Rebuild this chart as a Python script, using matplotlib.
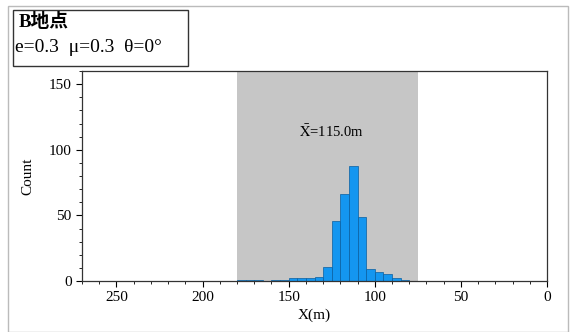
import matplotlib
matplotlib.use("Agg")
import matplotlib.pyplot as plt
from matplotlib.patches import Rectangle
from matplotlib.ticker import MultipleLocator

plt.rcParams['font.family'] = ['Liberation Serif', 'Noto Sans CJK SC']
plt.rcParams['mathtext.fontset'] = 'stix'

# data
bin_left = [180, 175, 170, 165, 160, 155, 150, 145, 140, 135, 130, 125, 120,
            115, 110, 105, 100, 95, 90, 85, 80]
counts = [1, 1, 1, 0, 1, 1, 2, 2, 2, 3, 11, 46, 66, 88, 49, 9, 7, 5, 2, 1, 0]
bin_width = 5
range_lo, range_hi = 75, 180
mean_label = r"$\bar{\mathrm{X}}$=115.0m"
title_line1 = "B地点"
title_line2 = "e=0.3  μ=0.3  θ=0°"

fig = plt.figure(figsize=(5.76, 3.32), dpi=100)
ax = fig.add_axes([82/576, 51/332, 465/576, 210/332])

ax.axvspan(range_lo, range_hi, color='#c6c6c6', zorder=0, lw=0)
ax.bar([b - bin_width / 2 for b in bin_left], counts, width=bin_width,
       color='#1496f0', edgecolor='#0a5fa0', linewidth=0.5, zorder=2)

ax.set_xlim(270, 0)
ax.set_ylim(0, 160)
ax.xaxis.set_major_locator(MultipleLocator(50))
ax.xaxis.set_minor_locator(MultipleLocator(10))
ax.yaxis.set_major_locator(MultipleLocator(50))
ax.yaxis.set_minor_locator(MultipleLocator(10))
ax.tick_params(which='major', direction='out', length=4, width=0.8, labelsize=11)
ax.tick_params(which='minor', direction='out', length=2, width=0.6)
for s in ax.spines.values():
    s.set_linewidth(0.9)
    s.set_color('#333333')

ax.set_xlabel("X(m)", fontsize=11, labelpad=3)
ax.set_ylabel("Count", fontsize=11, labelpad=10)

ax.text(125, 114, mean_label, ha='center', va='center', fontsize=10.5)

# title box
fig.patches.append(Rectangle((13/576, 1 - 66/332), 175/576, 56/332,
                             transform=fig.transFigure, fill=False,
                             edgecolor='#333333', linewidth=1.0))
fig.text(19/576, 1 - 22/332, title_line1, fontsize=13.5, fontweight='bold',
         va='center', ha='left')
fig.text(15/576, 1 - 48/332, title_line2, fontsize=14, va='center', ha='left')

# outer border
fig.patches.append(Rectangle((8/576, 0.5/332), 560/576, 1 - 6.5/332,
                             transform=fig.transFigure, fill=False,
                             edgecolor='#bbbbbb', linewidth=1.0))

fig.savefig("out.png", dpi=100)
